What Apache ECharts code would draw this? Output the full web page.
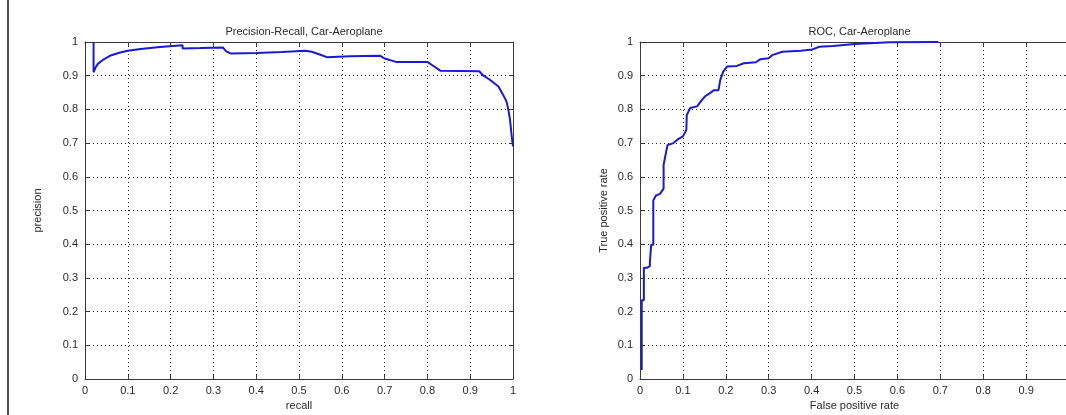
<!DOCTYPE html>
<html>
<head>
<meta charset="utf-8">
<script src="https://cdn.jsdelivr.net/npm/echarts@6/dist/echarts.min.js"></script>
<style>
  html, body { margin: 0; padding: 0; background: #fff; }
  #chart { width: 1066px; height: 415px; }
</style>
</head>
<body>
<div id="chart"></div>
<script>
// Precision-recall curve: [recall, precision]
const prCurve = [
  [0.02, 1.0], [0.02, 0.91], [0.025, 0.925], [0.03, 0.935], [0.043, 0.948],
  [0.06, 0.96], [0.08, 0.968], [0.1, 0.974], [0.13, 0.979], [0.175, 0.985],
  [0.228, 0.99], [0.228, 0.981], [0.27, 0.982], [0.322, 0.984], [0.33, 0.972],
  [0.34, 0.966], [0.4, 0.967], [0.46, 0.97], [0.514, 0.974], [0.53, 0.971],
  [0.55, 0.962], [0.565, 0.955], [0.62, 0.958], [0.69, 0.959], [0.7, 0.951],
  [0.727, 0.941], [0.8, 0.941], [0.815, 0.928], [0.83, 0.915], [0.921, 0.913],
  [0.931, 0.9], [0.946, 0.888], [0.966, 0.868], [0.977, 0.843], [0.985, 0.823],
  [0.989, 0.8], [0.993, 0.77], [0.997, 0.72], [1.0, 0.69]
];

// ROC curve: [false positive rate, true positive rate]
const rocCurve = [
  [0.004, 0.027], [0.004, 0.234], [0.009, 0.234], [0.009, 0.33], [0.016, 0.33],
  [0.016, 0.335], [0.023, 0.335], [0.023, 0.345], [0.026, 0.345], [0.026, 0.398],
  [0.031, 0.398], [0.031, 0.53], [0.037, 0.544], [0.047, 0.55], [0.055, 0.565],
  [0.055, 0.635], [0.059, 0.635], [0.064, 0.694], [0.078, 0.70], [0.087, 0.71],
  [0.1, 0.72], [0.108, 0.739], [0.109, 0.783], [0.117, 0.804], [0.133, 0.809],
  [0.145, 0.829], [0.152, 0.839], [0.164, 0.849], [0.172, 0.857], [0.183, 0.857],
  [0.187, 0.887], [0.194, 0.912], [0.203, 0.927], [0.226, 0.929], [0.242, 0.937],
  [0.27, 0.94], [0.281, 0.949], [0.3, 0.952], [0.308, 0.961], [0.332, 0.971],
  [0.375, 0.974], [0.402, 0.978], [0.418, 0.986], [0.45, 0.988], [0.5, 0.994],
  [0.582, 0.999], [0.695, 1.0]
];

const titles = ['Precision-Recall, Car-Aeroplane', 'ROC, Car-Aeroplane'];
const xNames = ['recall', 'False positive rate'];
const yNames = ['precision', 'True positive rate'];

const FONT = '"Liberation Sans", Arial, sans-serif';
const TEXT = '#2a2a2a';
const AXIS = '#3a3a3a';
const LINE = '#1a1ad0';

// The second panel runs slightly past the right edge of the page
const grids = [
  { left: 85, top: 42, width: 428, height: 337, outerBoundsMode: 'none', containLabel: false },
  { left: 640, top: 42, width: 429, height: 337, outerBoundsMode: 'none', containLabel: false }
];

function mainAxis(gridIndex, position, name, isY) {
  return {
    type: 'value', gridIndex, position, min: 0, max: 1, interval: 0.1,
    name, nameLocation: 'middle', nameGap: isY ? (gridIndex === 0 ? 42 : 31) : 21,
    nameTextStyle: { fontFamily: FONT, fontSize: 11, color: TEXT },
    axisLine: { show: true, onZero: false, lineStyle: { color: AXIS, width: 1 } },
    axisTick: { show: true, inside: true, length: 4, lineStyle: { color: AXIS } },
    axisLabel: {
      fontFamily: FONT, fontSize: 11, color: TEXT, margin: isY ? 7 : 6,
      hideOverlap: false,
      formatter: v => String(Math.round(v * 10) / 10)
    },
    splitLine: { show: true, lineStyle: { color: '#222', width: 1, type: [1, 3] } }
  };
}

function boxAxis(gridIndex, position) {
  return {
    type: 'value', gridIndex, position, min: 0, max: 1, interval: 0.1,
    axisLine: { show: true, onZero: false, lineStyle: { color: AXIS, width: 1 } },
    axisTick: { show: true, inside: true, length: 4, lineStyle: { color: AXIS } },
    axisLabel: { show: false },
    splitLine: { show: false }
  };
}

const option = {
  animation: false,
  backgroundColor: '#fff',
  title: titles.map((t, i) => ({
    text: t,
    left: grids[i].left + grids[i].width / 2,
    top: 21,
    textAlign: 'center',
    textStyle: { fontFamily: FONT, fontSize: 11, fontWeight: 'normal', color: TEXT }
  })),
  grid: grids,
  xAxis: [
    mainAxis(0, 'bottom', xNames[0], false),
    mainAxis(1, 'bottom', xNames[1], false),
    boxAxis(0, 'top'),
    boxAxis(1, 'top')
  ],
  yAxis: [
    mainAxis(0, 'left', yNames[0], true),
    mainAxis(1, 'left', yNames[1], true),
    boxAxis(0, 'right'),
    boxAxis(1, 'right')
  ],
  series: [
    {
      type: 'line', xAxisIndex: 0, yAxisIndex: 0, data: prCurve,
      showSymbol: false, lineStyle: { color: LINE, width: 2 }, z: 5
    },
    {
      type: 'line', xAxisIndex: 1, yAxisIndex: 1, data: rocCurve,
      showSymbol: false, lineStyle: { color: LINE, width: 2 }, z: 5
    }
  ],
  graphic: [
    {
      type: 'line', shape: { x1: 8, y1: 0, x2: 8, y2: 415 },
      style: { stroke: '#111', lineWidth: 1.5 }
    }
  ]
};

const chart = echarts.init(document.getElementById('chart'), null, { renderer: 'canvas' });
chart.setOption(option);
</script>
</body>
</html>
